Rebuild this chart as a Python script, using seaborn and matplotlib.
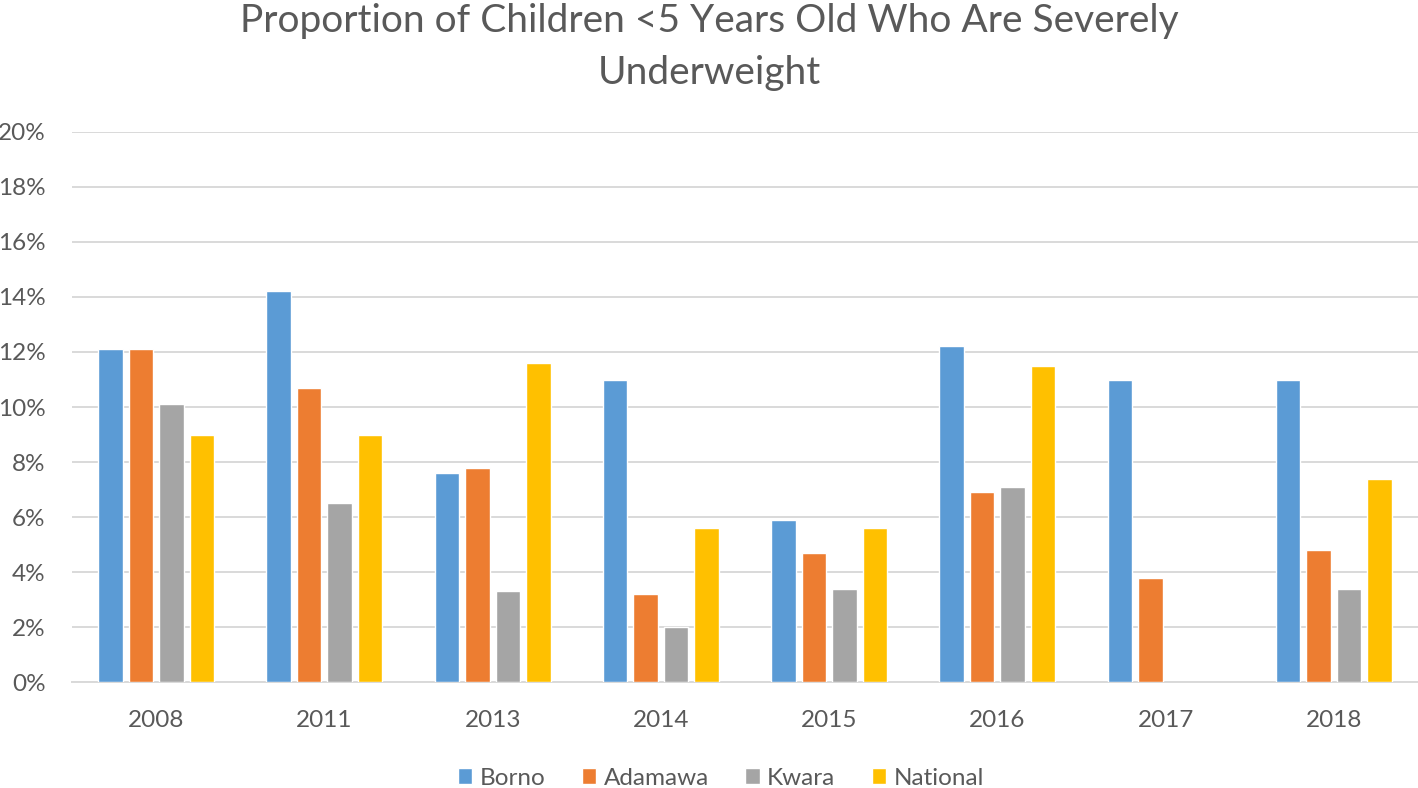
import pandas as pd
import matplotlib.pyplot as plt
import seaborn as sns
from matplotlib.ticker import PercentFormatter

# Values (percent)
years = ['2008', '2011', '2013', '2014', '2015', '2016', '2017', '2018']
borno = [12.1, 14.2, 7.6, 11.0, 5.9, 12.2, 11.0, 11.0]
adamawa = [12.1, 10.7, 7.8, 3.2, 4.7, 6.9, 3.8, 4.8]
kwara = [10.1, 6.5, 3.3, 2.0, 3.4, 7.1, None, 3.4]
national = [9.0, 9.0, 11.6, 5.6, 5.6, 11.5, None, 7.4]

series = {'Borno': borno, 'Adamawa': adamawa, 'Kwara': kwara, 'National': national}
palette = {'Borno': '#5B9BD5', 'Adamawa': '#ED7D31', 'Kwara': '#A5A5A5', 'National': '#FFC000'}

rows = []
for name, vals in series.items():
    for yr, v in zip(years, vals):
        rows.append({'Year': yr, 'Region': name, 'Value': v})
df = pd.DataFrame(rows)

sns.set_style('white')
plt.rcParams['font.family'] = ['Lato', 'DejaVu Sans']
text_color = '#595959'

fig = plt.figure(figsize=(14.18, 7.88), dpi=100)
ax = fig.add_axes([0.0508, 0.1345, 0.9492, 0.698])

sns.barplot(data=df, x='Year', y='Value', hue='Region', order=years,
            hue_order=list(series.keys()), palette=palette,
            width=0.725, gap=0.2, saturation=1, ax=ax, zorder=3)

ax.set_ylim(0, 20)
ax.set_yticks(range(0, 21, 2))
ax.yaxis.set_major_formatter(PercentFormatter(decimals=0))
ax.set_xlim(-0.5, len(years) - 0.5)
ax.grid(axis='y', color='#D9D9D9', linewidth=1.4, zorder=0)
ax.set_axisbelow(True)
for s in ['top', 'right', 'left']:
    ax.spines[s].set_visible(False)
ax.spines['bottom'].set_color('#D9D9D9')
ax.spines['bottom'].set_linewidth(1.4)
ax.tick_params(axis='both', length=0, labelsize=17.5, colors=text_color)
ax.tick_params(axis='y', pad=19)
ax.tick_params(axis='x', pad=20)
ax.set_xlabel('')
ax.set_ylabel('')

fig.suptitle('Proportion of Children <5 Years Old Who Are Severely\nUnderweight',
             fontsize=28, color=text_color, y=0.996, linespacing=1.55)

ax.legend(loc='center', bbox_to_anchor=(0.482, -0.175), ncol=4, frameon=False,
          fontsize=17.5, labelcolor=text_color, handlelength=0.6, handleheight=0.6,
          handletextpad=0.3, columnspacing=1.5)

fig.savefig('out.png', dpi=100)
